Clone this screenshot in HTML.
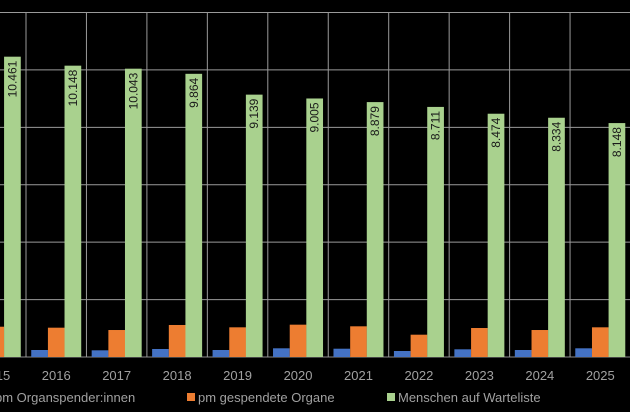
<!DOCTYPE html>
<html><head><meta charset="utf-8"><style>
html,body{margin:0;padding:0;background:#000;width:630px;height:412px;overflow:hidden}
svg{display:block;font-family:"Liberation Sans",sans-serif}
</style></head><body>
<svg id="chart" width="630" height="412" viewBox="0 0 630 412"></svg>
<script>
const categories=["2015","2016","2017","2018","2019","2020","2021","2022","2023","2024","2025"];
const donors=[250,244,233,279,244,303,289,209,268,244,303];
const organs=[1055,1021,940,1115,1034,1126,1069,777,1010,940,1034];
const waiting=[10461,10148,10043,9864,9139,9005,8879,8711,8474,8334,8148];
const waitingLabels=["10.461","10.148","10.043","9.864","9.139","9.005","8.879","8.711","8.474","8.334","8.148"];
const yTicks=[0,2000,4000,6000,8000,10000,12000];

(function(){
const NS="http://www.w3.org/2000/svg";
const svg=document.getElementById('chart');
const base=357, plotTop=12.5, yMax=12000;
const y=v=>base-(v/yMax)*(base-plotTop);
const catW=60.45, x0=26-catW;
const xc=i=>x0+(i+0.5)*catW;
const bw=16.7;
function mk(t,a){const e=document.createElementNS(NS,t);for(const k in a)e.setAttribute(k,a[k]);svg.appendChild(e);return e;}

yTicks.forEach((t)=>{
  const l=mk('line',{x1:0,x2:630,y1:y(t),y2:y(t),stroke:t===0?'#8a8a8a':'#9a9a9a','stroke-width':1});
  
  
});
for(let i=1;i<=categories.length;i++){
  const x=x0+i*catW;
  const l=mk('line',{x1:x,x2:x,y1:plotTop,y2:base,stroke:'#9a9a9a','stroke-width':1});
  
  
}
categories.forEach((c,i)=>{
  const cx=xc(i);
  const b=mk('rect',{x:cx-25,y:y(donors[i]),width:bw,height:base-y(donors[i]),fill:'#4472c4'});
  
  
  const o=mk('rect',{x:cx-8.3,y:y(organs[i]),width:bw,height:base-y(organs[i]),fill:'#ed7d31'});
  
  
  const g=mk('rect',{x:cx+8.3,y:y(waiting[i]),width:bw,height:base-y(waiting[i]),fill:'#a9d18e'});
  
  
  const tx=cx+8.3+bw/2+4, ty=y(waiting[i])+4;
  const t=mk('text',{x:tx,y:ty,transform:`rotate(-90 ${tx} ${ty})`,'text-anchor':'end','font-size':12,fill:'#1a1a1a'});
  t.textContent=waitingLabels[i];
  
  
  const xl=mk('text',{x:cx,y:380,'text-anchor':'middle','font-size':13,fill:'#a0a0a0'});
  xl.textContent=c;
  
  
});
const legend=[["#4472c4","pm Organspender:innen",-16],["#ed7d31","pm gespendete Organe",187],["#a9d18e","Menschen auf Warteliste",387]];
legend.forEach(([col,txt,lx])=>{
  const s=mk('rect',{x:lx,y:393,width:8,height:8,fill:col});
  
  
  const t=mk('text',{x:lx+11,y:402,'font-size':13,fill:'#a0a0a0'});
  t.textContent=txt;
  
  
});
})();
</script>
</body></html>
